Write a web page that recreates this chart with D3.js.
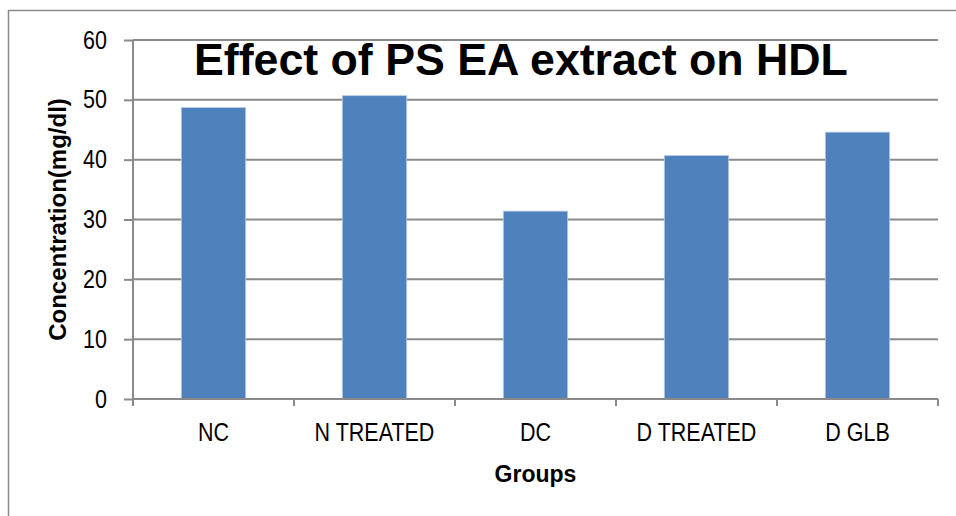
<!DOCTYPE html>
<html>
<head>
<meta charset="utf-8">
<script src="https://cdn.jsdelivr.net/npm/d3@7"></script>
<style>
  html, body { margin: 0; padding: 0; background: #fff; }
  svg { display: block; }
  text { font-family: "Liberation Sans Narrow", "Arial Narrow", "Liberation Sans", Arial, sans-serif; }
</style>
</head>
<body>
<svg id="chart" width="956" height="516"></svg>
<script>
const categories = ["NC", "N TREATED", "DC", "D TREATED", "D GLB"];
const values = [48.7, 50.7, 31.4, 40.7, 44.6];
const yTicks = [0, 10, 20, 30, 40, 50, 60];
const chartTitle = "Effect of PS EA extract on HDL";
const yTitle = "Concentration(mg/dl)";
const xTitle = "Groups";

(function () {
const svg = d3.select("#chart");
const W = 956, H = 516;
const pLeft = 133, pRight = 938, pTop = 40, pBottom = 399;
const gridColor = "#8a8a8a";
const barColor = "#4f81bd";
const narrow = 0.86;

// outer chart border (top and left visible)
svg.append("path")
  .attr("d", `M8.5,${H} L8.5,10.5 L${W},10.5`)
  .attr("fill", "none").attr("stroke", gridColor).attr("stroke-width", 1.5);

const x = d3.scaleBand().domain(categories).range([pLeft, pRight]).paddingInner(0.6).paddingOuter(0.3);
const y = d3.scaleLinear().domain([0, 60]).range([pBottom, pTop]);

// gridlines
svg.append("g").selectAll("line").data(yTicks.filter(d => d > 0)).join("line")
  .attr("x1", pLeft).attr("x2", pRight)
  .attr("y1", d => y(d)).attr("y2", d => y(d))
  .attr("stroke", gridColor).attr("stroke-width", 2);

// bars
svg.append("g").selectAll("rect").data(values).join("rect")
  .attr("x", (d, i) => x(categories[i]))
  .attr("width", x.bandwidth())
  .attr("y", d => y(d))
  .attr("height", d => y(0) - y(d))
  .attr("fill", barColor)
  .attr("stroke", "#b9cde5").attr("stroke-width", 0.8);

// y axis
const yAxis = svg.append("g").attr("transform", `translate(${pLeft},0)`)
  .call(d3.axisLeft(y).tickValues(yTicks).tickSize(9).tickPadding(17).tickFormat(d3.format("d")));
yAxis.select(".domain").attr("stroke", gridColor).attr("stroke-width", 2).attr("d", `M0,${pTop}V${pBottom + 7}`);
yAxis.selectAll(".tick line").attr("stroke", gridColor).attr("stroke-width", 2);
yAxis.selectAll(".tick text").attr("font-size", 25).attr("fill", "#000")
  .attr("x", 0).attr("transform", `translate(-26,0) scale(${narrow},1)`);

// x axis
const xAxis = svg.append("g").attr("transform", `translate(0,${pBottom})`)
  .call(d3.axisBottom(x).tickSize(0).tickPadding(24));
xAxis.select(".domain").attr("stroke", gridColor).attr("stroke-width", 2).attr("d", `M${pLeft},0H${pRight}`);
xAxis.selectAll(".tick text").attr("font-size", 25).attr("fill", "#000")
  .attr("transform", `scale(${narrow},1)`);
// category separators
const step = x.step();
const seps = d3.range(categories.length + 1).map(i => pLeft + i * step);
svg.append("g").selectAll("line").data(seps).join("line")
  .attr("x1", d => d).attr("x2", d => d)
  .attr("y1", pBottom).attr("y2", pBottom + 7)
  .attr("stroke", gridColor).attr("stroke-width", 2);

// titles
svg.append("text").attr("x", 194).attr("y", 75)
  .attr("font-size", 44.7).attr("font-weight", "bold").attr("fill", "#000")
  .text(chartTitle);

svg.append("text").attr("transform", `translate(66,${(pTop + pBottom) / 2}) rotate(-90)`)
  .attr("text-anchor", "middle").attr("font-size", 24).attr("font-weight", "bold").attr("fill", "#000")
  .text(yTitle);

svg.append("text").attr("x", (pLeft + pRight) / 2).attr("y", 482)
  .attr("text-anchor", "middle").attr("font-size", 23).attr("font-weight", "bold").attr("fill", "#000")
  .text(xTitle);
})();
</script>
</body>
</html>
